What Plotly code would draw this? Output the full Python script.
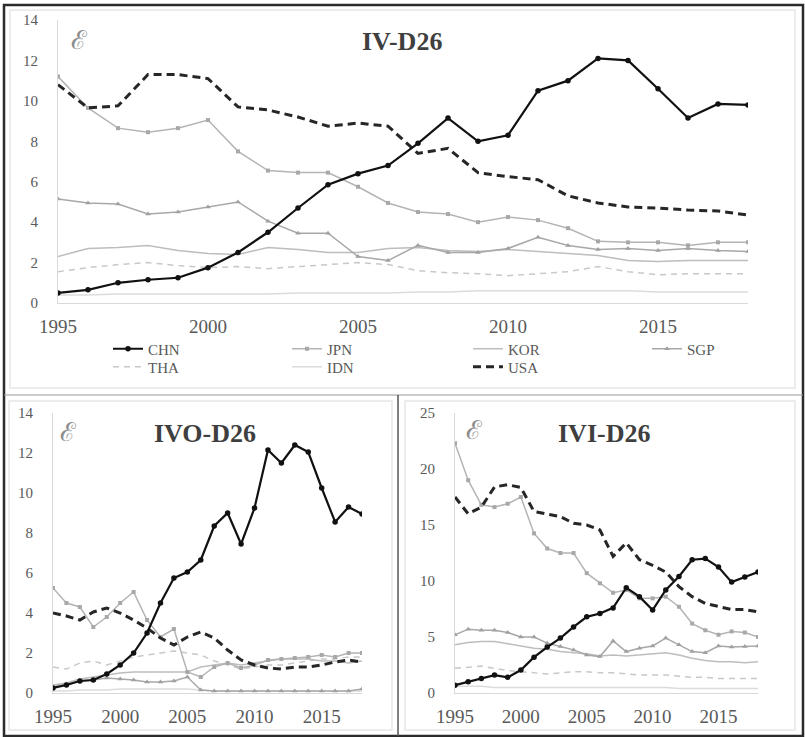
import plotly.graph_objects as go

W, H = 805, 737

years = [1995, 1996, 1997, 1998, 1999, 2000, 2001, 2002, 2003, 2004, 2005, 2006,
         2007, 2008, 2009, 2010, 2011, 2012, 2013, 2014, 2015, 2016, 2017, 2018]
year_ticks = [1995, 2000, 2005, 2010, 2015]
countries = ["CHN", "JPN", "KOR", "SGP", "THA", "IDN", "USA"]
panel_titles = ["IV-D26", "IVO-D26", "IVI-D26"]

# ---- IV-D26 (top) ----
CHN_IV = [0.5, 0.65, 1.0, 1.15, 1.25, 1.75, 2.5, 3.5, 4.7, 5.85, 6.4, 6.8,
          7.9, 9.15, 8.0, 8.3, 10.5, 11.0, 12.1, 12.0, 10.6, 9.15, 9.85, 9.8]
JPN_IV = [11.2, 9.65, 8.65, 8.45, 8.65, 9.05, 7.5, 6.55, 6.45, 6.45, 5.75, 4.95,
          4.5, 4.4, 4.0, 4.25, 4.1, 3.7, 3.05, 3.0, 3.0, 2.85, 3.0, 3.0]
KOR_IV = [2.3, 2.7, 2.75, 2.85, 2.6, 2.45, 2.4, 2.75, 2.65, 2.5, 2.5, 2.7,
          2.75, 2.6, 2.55, 2.65, 2.55, 2.45, 2.35, 2.1, 2.05, 2.1, 2.1, 2.1]
SGP_IV = [5.15, 4.95, 4.9, 4.4, 4.5, 4.75, 5.0, 4.05, 3.45, 3.45, 2.3, 2.1,
          2.85, 2.5, 2.5, 2.7, 3.25, 2.85, 2.65, 2.7, 2.6, 2.7, 2.6, 2.55]
THA_IV = [1.55, 1.75, 1.9, 2.0, 1.85, 1.75, 1.8, 1.7, 1.8, 1.9, 2.0, 1.9,
          1.6, 1.5, 1.45, 1.35, 1.45, 1.55, 1.8, 1.55, 1.4, 1.45, 1.45, 1.45]
IDN_IV = [0.4, 0.4, 0.45, 0.45, 0.45, 0.45, 0.45, 0.45, 0.5, 0.5, 0.5, 0.5,
          0.55, 0.55, 0.6, 0.6, 0.6, 0.6, 0.6, 0.6, 0.55, 0.55, 0.55, 0.55]
USA_IV = [10.8, 9.65, 9.75, 11.3, 11.3, 11.1, 9.7, 9.55, 9.2, 8.75, 8.9, 8.75,
          7.4, 7.65, 6.45, 6.25, 6.1, 5.3, 4.95, 4.75, 4.7, 4.6, 4.55, 4.35]

# ---- IVO-D26 (bottom left) ----
CHN_IVO = [0.25, 0.4, 0.6, 0.65, 0.95, 1.4, 2.0, 3.0, 4.5, 5.75, 6.05, 6.65,
           8.35, 9.0, 7.45, 9.25, 12.15, 11.5, 12.4, 12.05, 10.25, 8.55, 9.3, 8.95]
JPN_IVO = [5.25, 4.5, 4.3, 3.3, 3.8, 4.5, 5.05, 3.65, 2.8, 3.2, 1.05, 0.8,
           1.3, 1.5, 1.25, 1.4, 1.65, 1.7, 1.75, 1.8, 1.9, 1.8, 2.0, 2.0]
KOR_IVO = [0.4, 0.5, 0.7, 0.8, 0.9, 1.0, 1.05, 1.05, 1.05, 1.05, 1.05, 1.3,
           1.4, 1.5, 1.4, 1.5, 1.6, 1.7, 1.7, 1.7, 1.6, 1.6, 1.5, 1.6]
SGP_IVO = [0.3, 0.45, 0.6, 0.65, 0.75, 0.7, 0.65, 0.55, 0.55, 0.6, 0.8, 0.15,
           0.1, 0.1, 0.1, 0.1, 0.1, 0.1, 0.1, 0.1, 0.1, 0.1, 0.1, 0.2]
THA_IVO = [1.3, 1.2, 1.5, 1.6, 1.4, 1.6, 1.8, 1.9, 2.0, 2.1, 2.0, 1.9,
           1.6, 1.4, 1.2, 1.3, 1.4, 1.4, 1.5, 1.6, 1.7, 1.7, 1.8, 1.8]
IDN_IVO = [0.1, 0.1, 0.15, 0.15, 0.15, 0.2, 0.2, 0.2, 0.2, 0.2, 0.2, 0.15,
           0.1, 0.1, 0.1, 0.1, 0.1, 0.1, 0.1, 0.1, 0.1, 0.1, 0.1, 0.1]
USA_IVO = [4.0, 3.85, 3.65, 4.05, 4.25, 4.0, 3.65, 3.25, 2.75, 2.4, 2.8, 3.05,
           2.75, 2.15, 1.65, 1.4, 1.25, 1.2, 1.3, 1.3, 1.4, 1.55, 1.65, 1.55]

# ---- IVI-D26 (bottom right) ----
CHN_IVI = [0.7, 1.0, 1.3, 1.6, 1.4, 2.05, 3.2, 4.1, 4.9, 5.9, 6.8, 7.1,
           7.6, 9.4, 8.6, 7.4, 9.2, 10.4, 11.9, 12.0, 11.25, 9.9, 10.35, 10.8]
JPN_IVI = [22.3, 19.0, 16.8, 16.6, 16.9, 17.5, 14.25, 12.9, 12.5, 12.5, 10.7, 9.8,
           8.95, 9.2, 8.45, 8.45, 8.6, 7.7, 6.2, 5.6, 5.2, 5.5, 5.4, 5.0]
KOR_IVI = [4.3, 4.5, 4.6, 4.6, 4.4, 4.2, 4.0, 3.9, 3.7, 3.6, 3.5, 3.3,
           3.4, 3.3, 3.4, 3.5, 3.6, 3.4, 3.1, 2.9, 2.8, 2.8, 2.7, 2.8]
SGP_IVI = [5.2, 5.7, 5.6, 5.6, 5.4, 5.0, 5.0, 4.45, 4.15, 3.85, 3.4, 3.25,
           4.65, 3.7, 4.0, 4.2, 4.9, 4.3, 3.7, 3.6, 4.2, 4.1, 4.15, 4.2]
THA_IVI = [2.2, 2.3, 2.4, 2.2, 2.0, 1.9, 1.8, 1.7, 1.8, 1.9, 1.9, 1.8,
           1.8, 1.7, 1.6, 1.6, 1.6, 1.5, 1.4, 1.4, 1.3, 1.3, 1.3, 1.3]
IDN_IVI = [0.6, 0.6, 0.6, 0.5, 0.5, 0.5, 0.5, 0.5, 0.5, 0.5, 0.5, 0.5,
           0.5, 0.5, 0.5, 0.5, 0.5, 0.4, 0.4, 0.4, 0.4, 0.4, 0.4, 0.4]
USA_IVI = [17.5, 16.0, 16.6, 18.4, 18.6, 18.35, 16.2, 16.0, 15.75, 15.15, 15.0, 14.55,
           12.2, 13.4, 11.9, 11.4, 10.8, 9.5, 8.6, 8.0, 7.75, 7.45, 7.45, 7.25]

panels = [
    {"CHN": CHN_IV, "JPN": JPN_IV, "KOR": KOR_IV, "SGP": SGP_IV, "THA": THA_IV, "IDN": IDN_IV, "USA": USA_IV},
    {"CHN": CHN_IVO, "JPN": JPN_IVO, "KOR": KOR_IVO, "SGP": SGP_IVO, "THA": THA_IVO, "IDN": IDN_IVO, "USA": USA_IVO},
    {"CHN": CHN_IVI, "JPN": JPN_IVI, "KOR": KOR_IVI, "SGP": SGP_IVI, "THA": THA_IVI, "IDN": IDN_IVI, "USA": USA_IVI},
]

def px(x):
    return x / W

def py(y):
    return 1 - y / H

SERIF = "Liberation Serif, Times New Roman, serif"

styles = {
    "IDN": dict(line=dict(color="#dcdcdc", width=1.5), mode="lines"),
    "THA": dict(line=dict(color="#c8c8c8", width=1.5, dash="6px,5px"), mode="lines"),
    "KOR": dict(line=dict(color="#bdbdbd", width=1.5), mode="lines"),
    "SGP": dict(line=dict(color="#a8a8a8", width=1.5), mode="lines+markers",
                marker=dict(symbol="triangle-up", size=5, color="#a0a0a0")),
    "JPN": dict(line=dict(color="#b4b4b4", width=1.5), mode="lines+markers",
                marker=dict(symbol="square", size=4, color="#a8a8a8")),
    "USA": dict(line=dict(color="#262626", width=3, dash="8px,5px"), mode="lines"),
    "CHN": dict(line=dict(color="#111111", width=2.2), mode="lines+markers",
                marker=dict(symbol="circle", size=5.5, color="#111111")),
}
draw_order = ["IDN", "THA", "KOR", "SGP", "JPN", "USA", "CHN"]

# one single-entry legend per country, laid out as in the original 4 + 3 grid
legend_names = ["legend", "legend2", "legend3", "legend4", "legend5", "legend6", "legend7"]
legend_cells = [(148, 349), (327, 349), (508, 349), (687, 349),
                (148, 367), (327, 367), (508, 367)]

fig = go.Figure()

axis_ids = [("x", "y"), ("x2", "y2"), ("x3", "y3")]
for i, data in enumerate(panels):
    xa, ya = axis_ids[i]
    for c in draw_order:
        st = styles[c]
        k = countries.index(c)
        fig.add_trace(go.Scatter(
            x=years, y=data[c], name=c, xaxis=xa, yaxis=ya,
            mode=st["mode"], line=st["line"], marker=st.get("marker"),
            showlegend=(i == 0), legend=legend_names[k],
            hoverinfo="skip",
        ))

# domains in pixels: (x_left, x_right, y_top, y_bottom)
dom = [(58, 748, 20, 303), (53, 362, 413, 693), (455, 758, 413, 693)]
yranges = [(0, 14, 2), (0, 14, 2), (0, 25, 5)]

for i in range(3):
    xl, xr, yt, yb = dom[i]
    suffix = "" if i == 0 else str(i + 1)
    fig.update_layout(**{
        "xaxis" + suffix: dict(
            domain=[px(xl), px(xr)], range=[1995, 2018], anchor="y" + suffix,
            tickvals=year_ticks, ticktext=[str(t) for t in year_ticks],
            showline=True, linecolor="#d9d9d9", linewidth=1,
            showgrid=False, zeroline=False, automargin=False,
            ticks="outside", ticklen=6, tickcolor="rgba(0,0,0,0)",
            tickfont=dict(family=SERIF, size=19, color="#595959"),
        ),
        "yaxis" + suffix: dict(
            domain=[py(yb), py(yt)], range=[yranges[i][0], yranges[i][1]],
            anchor="x" + suffix, dtick=yranges[i][2], tick0=0,
            showline=True, linecolor="#d9d9d9", linewidth=1,
            showgrid=False, zeroline=False, automargin=False,
            ticks="outside", ticklen=16, tickcolor="rgba(0,0,0,0)",
            tickfont=dict(family=SERIF, size=15, color="#595959"),
        ),
    })

for k, ln in enumerate(legend_names):
    lx, ly = legend_cells[k]
    fig.update_layout(**{ln: dict(
        orientation="h", x=px(lx - 40), y=py(ly), xanchor="left", yanchor="middle",
        font=dict(family=SERIF, size=15, color="#595959"),
        bgcolor="rgba(0,0,0,0)", borderwidth=0, itemwidth=30,
    )})

annotations = []
title_pos = [(402, 42), (205, 433), (604, 433)]
logo_pos = [(79, 40), (68, 432), (474, 430)]
for i in range(3):
    tx, ty = title_pos[i]
    annotations.append(dict(
        text="<b>" + panel_titles[i] + "</b>", x=px(tx), y=py(ty),
        xref="paper", yref="paper", xanchor="center", yanchor="middle",
        showarrow=False, font=dict(family=SERIF, size=26, color="#3f3f3f"),
    ))
    lx, ly = logo_pos[i]
    annotations.append(dict(
        text="ℰ", x=px(lx), y=py(ly), xref="paper", yref="paper",
        xanchor="center", yanchor="middle", showarrow=False,
        font=dict(family="DejaVu Serif, serif", size=26, color="#8c8c8c"),
    ))

shapes = []
# light inner chart-area borders
for (x0, y0, x1, y1) in [(10, 10, 795, 388), (9, 401, 392, 730), (405, 401, 795, 730)]:
    shapes.append(dict(type="rect", xref="paper", yref="paper",
                       x0=px(x0), x1=px(x1), y0=py(y1), y1=py(y0),
                       line=dict(color="#e6e6e6", width=1.5), layer="below"))
# dark outer frame
shapes.append(dict(type="rect", xref="paper", yref="paper",
                   x0=px(4), x1=px(803), y0=py(736), y1=py(5),
                   line=dict(color="#2b2b2b", width=2.5)))
# divider lines
shapes.append(dict(type="line", xref="paper", yref="paper",
                   x0=px(4), x1=px(803), y0=py(395), y1=py(395),
                   line=dict(color="#9a9a9a", width=1.2)))
shapes.append(dict(type="line", xref="paper", yref="paper",
                   x0=px(398), x1=px(398), y0=py(395), y1=py(736),
                   line=dict(color="#555555", width=1.5)))

fig.update_layout(
    width=W, height=H, margin=dict(l=0, r=0, t=0, b=0, pad=0, autoexpand=False),
    paper_bgcolor="white", plot_bgcolor="white",
    annotations=annotations, shapes=shapes,
    hovermode=False,
)

fig.write_html("out.html", post_script="document.body.style.margin='0px';")
